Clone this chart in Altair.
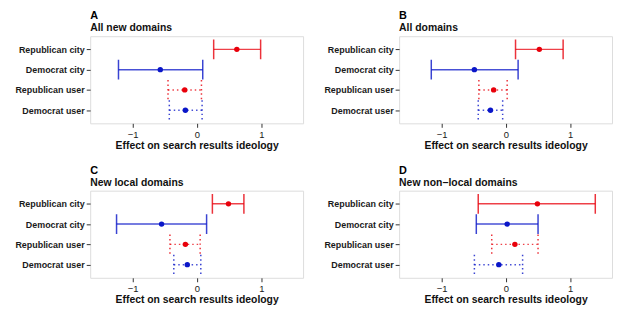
import altair as alt
import pandas as pd

categories = ["Republican city", "Democrat city", "Republican user", "Democrat user"]
parties = ["Republican", "Democrat", "Republican", "Democrat"]
kinds = ["city", "city", "user", "user"]

panel_letters = ["A", "B", "C", "D"]
panel_titles = ["All new domains", "All domains", "New local domains", "New non\u2212local domains"]

est_A = [0.62, -0.57, -0.19, -0.18]
lo_A = [0.26, -1.22, -0.45, -0.43]
hi_A = [0.99, 0.09, 0.07, 0.08]

est_B = [0.52, -0.49, -0.19, -0.24]
lo_B = [0.15, -1.16, -0.42, -0.43]
hi_B = [0.89, 0.19, 0.02, -0.05]

est_C = [0.49, -0.55, -0.18, -0.15]
lo_C = [0.24, -1.25, -0.42, -0.36]
hi_C = [0.73, 0.15, 0.05, 0.06]

est_D = [0.49, 0.02, 0.14, -0.11]
lo_D = [-0.43, -0.46, -0.22, -0.49]
hi_D = [1.39, 0.50, 0.50, 0.26]

x_ticks = [-1, 0, 1]

panels = [(est_A, lo_A, hi_A), (est_B, lo_B, hi_B), (est_C, lo_C, hi_C), (est_D, lo_D, hi_D)]

FONT = "Liberation Sans"
color_scale = alt.Scale(domain=["Republican", "Democrat"], range=["#e8000b", "#0a16c8"])
dash_scale = alt.Scale(domain=["city", "user"], range=[[1, 0], [1.5, 3]])
y_enc = alt.Y("cat:N", sort=categories, scale=alt.Scale(type="point", padding=0.65),
              axis=alt.Axis(title=None, domain=False, tickSize=4, tickColor="#333333",
                            labelFontSize=9, labelFontWeight="bold", labelColor="#1a1a1a",
                            labelPadding=2, minExtent=82, maxExtent=82))
x_scale = alt.Scale(domain=[-1.66, 1.65], nice=False, zero=False)


def make_panel(i):
    est, lo, hi = panels[i]
    df = pd.DataFrame({"cat": categories, "party": parties, "kind": kinds,
                       "est": est, "lo": lo, "hi": hi})
    base = alt.Chart(df)
    x_axis = alt.Axis(title="Effect on search results ideology", values=x_ticks, format=".0f",
                      grid=False, domain=False, tickSize=4, tickColor="#333333", labelFontSize=9.5,
                      labelColor="#1a1a1a", labelPadding=2, titleFontSize=10.5,
                      titleFontWeight="bold", titleColor="#111111", titlePadding=1.5)
    color = alt.Color("party:N", scale=color_scale, legend=None)
    dash = alt.StrokeDash("kind:N", scale=dash_scale, legend=None)
    rule = base.mark_rule(strokeWidth=1.5, opacity=0.75).encode(
        x=alt.X("lo:Q", scale=x_scale, axis=x_axis), x2="hi:Q", y=y_enc, color=color, strokeDash=dash)
    cap_lo = base.mark_point(shape="M0,-1L0,1", filled=False, size=400, strokeWidth=1.5, opacity=0.8).encode(
        x=alt.X("lo:Q", scale=x_scale), y=y_enc, color=color, strokeDash=dash)
    cap_hi = base.mark_point(shape="M0,-1L0,1", filled=False, size=400, strokeWidth=1.5, opacity=0.8).encode(
        x=alt.X("hi:Q", scale=x_scale), y=y_enc, color=color, strokeDash=dash)
    pt = base.mark_circle(size=30, opacity=1).encode(
        x=alt.X("est:Q", scale=x_scale), y=y_enc, color=color)
    return alt.layer(rule, cap_lo, cap_hi, pt).properties(
        width=215, height=88,
        title=alt.TitleParams(text=panel_letters[i], subtitle=panel_titles[i], anchor="start",
                              frame="group", fontSize=11, fontWeight="bold", font=FONT,
                              color="#000000", subtitleFontSize=10.5, subtitleFontWeight="bold",
                              subtitleFont=FONT, subtitleColor="#111111", subtitlePadding=2,
                              offset=2.5))


row1 = alt.hconcat(make_panel(0), make_panel(1), spacing=13)
row2 = alt.hconcat(make_panel(2), make_panel(3), spacing=13)
chart = alt.vconcat(row1, row2, spacing=13).properties(padding=0).configure_view(
    stroke="#999999", strokeWidth=1.5).configure(font=FONT)

chart.save("out.html", embed_options={"renderer": "svg", "actions": False})
